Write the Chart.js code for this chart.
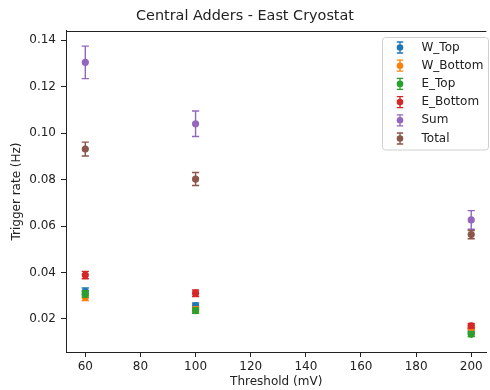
<!DOCTYPE html>
<html>
<head>
<meta charset="utf-8">
<script src="https://cdn.jsdelivr.net/npm/chart.js@4/dist/chart.umd.min.js"></script>
<style>
html, body { margin: 0; padding: 0; background: #fff; overflow: hidden; }
#wrap { width: 490px; height: 390px; }
</style>
</head>
<body>
<div id="wrap"><canvas id="c" width="490" height="390"></canvas></div>
<script>
const thresholds = [60, 100, 200];
const seriesNames = ['W_Top', 'W_Bottom', 'E_Top', 'E_Bottom', 'Sum', 'Total'];
const seriesColors = ['#1f77b4', '#ff7f0e', '#2ca02c', '#d62728', '#9467bd', '#8c564b'];
const wTop = [0.0318, 0.0256, 0.0148];
const wTopErr = [0.0015, 0.0013, 0.0010];
const wBottom = [0.0293, 0.0240, 0.0163];
const wBottomErr = [0.0014, 0.0012, 0.0010];
const eTop = [0.0308, 0.0236, 0.0134];
const eTopErr = [0.0014, 0.0012, 0.0009];
const eBottom = [0.0389, 0.0311, 0.0171];
const eBottomErr = [0.0016, 0.0014, 0.0010];
const sumRate = [0.1304, 0.1040, 0.0626];
const sumErr = [0.0070, 0.0055, 0.0040];
const totalRate = [0.0931, 0.0802, 0.0563];
const totalErr = [0.0030, 0.0028, 0.0018];
const xTicks = [60, 80, 100, 120, 140, 160, 180, 200];
const yTicks = [0.02, 0.04, 0.06, 0.08, 0.10, 0.12, 0.14];

const values = [wTop, wBottom, eTop, eBottom, sumRate, totalRate];
const errors = [wTopErr, wBottomErr, eTopErr, eBottomErr, sumErr, totalErr];

const FONT = 'DejaVu Sans';

const datasets = seriesNames.map((name, i) => ({
  label: name,
  data: thresholds.map((x, j) => ({ x: x, y: values[i][j], err: errors[i][j] })),
  backgroundColor: seriesColors[i],
  borderColor: seriesColors[i],
  pointRadius: 3.6,
  pointHoverRadius: 3.6,
  pointBorderWidth: 0,
  showLine: false,
  order: seriesNames.length - i
}));

function drawErrIcon(ctx, x, y, color, halfLen, cap, r, lw) {
  ctx.save();
  ctx.strokeStyle = color;
  ctx.lineWidth = lw;
  ctx.beginPath();
  ctx.moveTo(x, y - halfLen); ctx.lineTo(x, y + halfLen);
  ctx.moveTo(x - cap, y - halfLen); ctx.lineTo(x + cap, y - halfLen);
  ctx.moveTo(x - cap, y + halfLen); ctx.lineTo(x + cap, y + halfLen);
  ctx.stroke();
  ctx.fillStyle = color;
  ctx.beginPath();
  ctx.arc(x, y, r, 0, Math.PI * 2);
  ctx.fill();
  ctx.restore();
}

const errorBars = {
  id: 'errorBars',
  beforeDatasetDraw(chart, args) {
    const ctx = chart.ctx;
    const ds = chart.data.datasets[args.index];
    const xs = chart.scales.x, ys = chart.scales.y;
    ctx.save();
    ctx.strokeStyle = ds.borderColor;
    ctx.lineWidth = 1.4;
    ds.data.forEach(p => {
      const px = xs.getPixelForValue(p.x);
      const top = ys.getPixelForValue(p.y + p.err);
      const bot = ys.getPixelForValue(p.y - p.err);
      const cap = 3.6;
      ctx.beginPath();
      ctx.moveTo(px, top); ctx.lineTo(px, bot);
      ctx.moveTo(px - cap, top); ctx.lineTo(px + cap, top);
      ctx.moveTo(px - cap, bot); ctx.lineTo(px + cap, bot);
      ctx.stroke();
    });
    ctx.restore();
  }
};

const frameAndLegend = {
  id: 'frameAndLegend',
  afterDraw(chart) {
    const ctx = chart.ctx;
    const a = chart.chartArea;
    ctx.save();
    ctx.strokeStyle = '#222';
    ctx.lineWidth = 1;
    const ty = Math.round(a.top) + 0.5;
    ctx.beginPath();
    ctx.moveTo(a.left, ty); ctx.lineTo(a.right, ty);
    ctx.stroke();
    // legend
    const bx = 382.5, by = 37.5, bw = 106, bh = 112.5, r = 3;
    ctx.beginPath();
    ctx.moveTo(bx + r, by);
    ctx.lineTo(bx + bw - r, by); ctx.arcTo(bx + bw, by, bx + bw, by + r, r);
    ctx.lineTo(bx + bw, by + bh - r); ctx.arcTo(bx + bw, by + bh, bx + bw - r, by + bh, r);
    ctx.lineTo(bx + r, by + bh); ctx.arcTo(bx, by + bh, bx, by + bh - r, r);
    ctx.lineTo(bx, by + r); ctx.arcTo(bx, by, bx + r, by, r);
    ctx.closePath();
    ctx.fillStyle = 'rgba(255,255,255,0.8)';
    ctx.fill();
    ctx.strokeStyle = '#d0d0d0';
    ctx.stroke();
    ctx.font = '12px "' + FONT + '"';
    ctx.textBaseline = 'middle';
    ctx.textAlign = 'left';
    seriesNames.forEach((name, i) => {
      const y = 47.5 + i * 18.2;
      drawErrIcon(ctx, 400, y, seriesColors[i], 5.5, 3.2, 3.3, 1.3);
      ctx.fillStyle = '#222';
      ctx.fillText(name, 421.5, y);
    });
    ctx.restore();
  }
};

new Chart(document.getElementById('c'), {
  type: 'scatter',
  data: { datasets: datasets },
  options: {
    responsive: false,
    animation: false,
    devicePixelRatio: 1,
    layout: { padding: { left: 0, right: 0, top: 0, bottom: 0 } },
    plugins: {
      legend: { display: false },
      tooltip: { enabled: false },
      title: {
        display: true,
        text: 'Central Adders - East Cryostat',
        color: '#222',
        font: { family: FONT, size: 14.4, weight: 'normal', lineHeight: 1.2 },
        padding: { top: 8, bottom: 5.7 }
      }
    },
    scales: {
      x: {
        type: 'linear',
        min: 53,
        max: 205.5,
        afterFit(s) { s.height = 38; },
        afterBuildTicks(s) { s.ticks = xTicks.map(v => ({ value: v })); },
        ticks: {
          color: '#222',
          font: { family: FONT, size: 12 },
          padding: 3,
          maxRotation: 0,
          autoSkip: false,
          callback: v => String(v)
        },
        grid: { display: true, drawOnChartArea: false, drawTicks: true, tickLength: 5, color: '#222' },
        border: { display: true, color: '#222', width: 1 },
        title: {
          display: true,
          text: 'Threshold (mV)',
          color: '#222',
          font: { family: FONT, size: 12, lineHeight: 1.2 },
          padding: { top: 0, bottom: 1 }
        }
      },
      y: {
        type: 'linear',
        min: 0.0058,
        max: 0.1439,
        afterFit(s) { s.width = 66; },
        afterBuildTicks(s) { s.ticks = yTicks.map(v => ({ value: v })); },
        ticks: {
          color: '#222',
          font: { family: FONT, size: 12 },
          padding: 5,
          autoSkip: false,
          callback: v => Number(v).toFixed(2)
        },
        grid: { display: true, drawOnChartArea: false, drawTicks: true, tickLength: 5, color: '#222' },
        border: { display: true, color: '#222', width: 1 },
        title: {
          display: true,
          text: 'Trigger rate (Hz)',
          color: '#222',
          font: { family: FONT, size: 12, lineHeight: 1.2 },
          padding: { top: 10, bottom: 0 }
        }
      }
    }
  },
  plugins: [errorBars, frameAndLegend]
});
</script>
</body>
</html>
